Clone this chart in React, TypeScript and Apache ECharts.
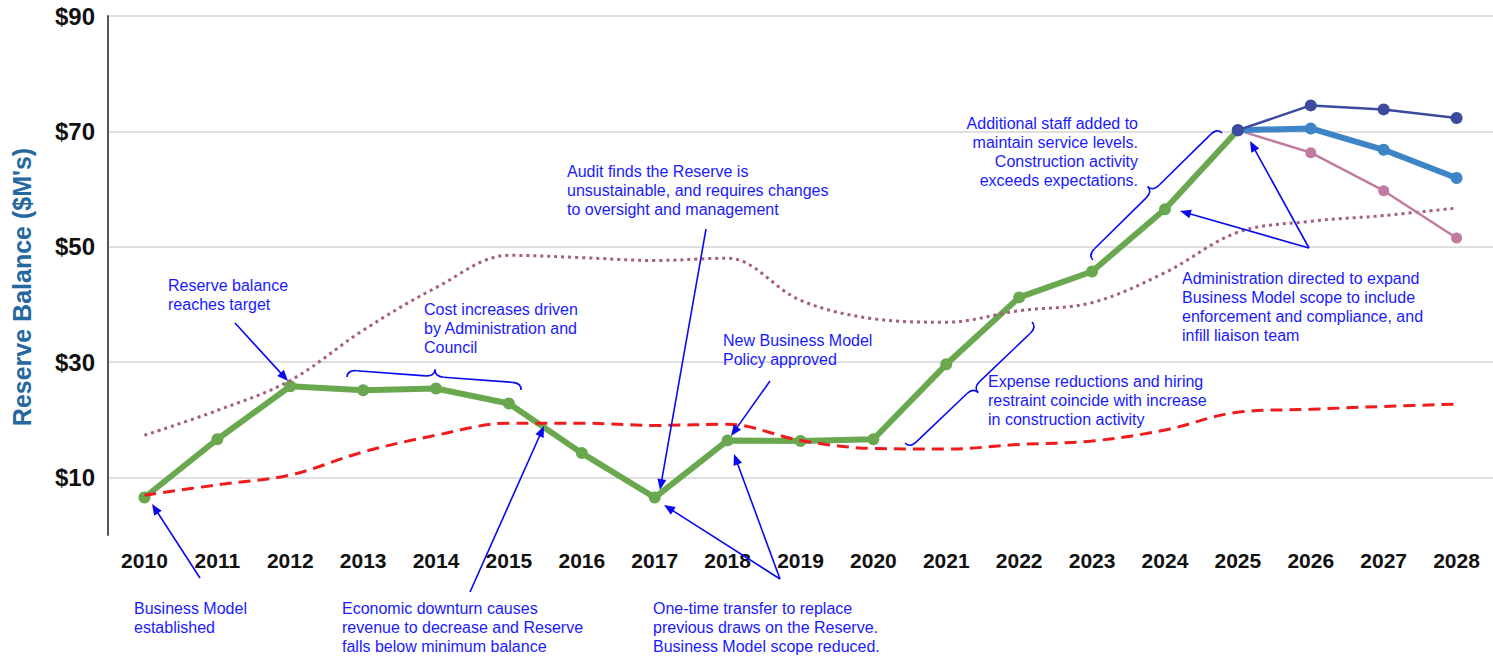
import React, { useEffect, useRef } from "react";
import * as echarts from "echarts";

const years = ["2010","2011","2012","2013","2014","2015","2016","2017","2018","2019","2020","2021","2022","2023","2024","2025","2026","2027","2028"];
const actual = [6.5, 16.6, 25.8, 25.1, 25.4, 22.8, 14.2, 6.5, 16.4, 16.3, 16.6, 29.6, 41.2, 45.7, 56.5, 70.2, null, null, null];
const projHigh = [null, null, null, null, null, null, null, null, null, null, null, null, null, null, null, 70.2, 74.5, 73.8, 72.3];
const projMid = [null, null, null, null, null, null, null, null, null, null, null, null, null, null, null, 70.2, 70.5, 66.8, 61.9];
const projLow = [null, null, null, null, null, null, null, null, null, null, null, null, null, null, null, 70.2, 66.3, 59.7, 51.5];
const target = [17.3, 21.6, 26.8, 35.5, 42.9, 48.5, 48.1, 47.6, 48.0, 40.7, 37.5, 36.9, 38.9, 40.3, 45.5, 52.5, 54.4, 55.4, 56.7];
const minimum = [6.9, 8.7, 10.4, 14.4, 17.3, 19.4, 19.4, 19.0, 19.2, 16.4, 15.0, 14.9, 15.7, 16.3, 18.2, 21.3, 21.8, 22.3, 22.7];

const yTickLabels = [10, 30, 50, 70, 90];

const notes = [
  { text: "Reserve balance\nreaches target", x: 168, y: 275.5, align: "left" },
  { text: "Cost increases driven\nby Administration and\nCouncil", x: 424, y: 299.5, align: "left" },
  { text: "Audit finds the Reserve is\nunsustainable, and requires changes\nto oversight and management", x: 567, y: 161.5, align: "left" },
  { text: "New Business Model\nPolicy approved", x: 723, y: 330.5, align: "left" },
  { text: "Additional staff added to\nmaintain service levels.\nConstruction activity\nexceeds expectations.", x: 1138, y: 113.5, align: "right" },
  { text: "Administration directed to expand\nBusiness Model scope to include\nenforcement and compliance, and\ninfill liaison team", x: 1182, y: 268.5, align: "left" },
  { text: "Expense reductions and hiring\nrestraint coincide with increase\nin construction activity", x: 988, y: 371.5, align: "left" },
  { text: "Business Model\nestablished", x: 134, y: 598.5, align: "left" },
  { text: "Economic downturn causes\nrevenue to decrease and Reserve\nfalls below minimum balance", x: 342, y: 598.5, align: "left" },
  { text: "One-time transfer to replace\nprevious draws on the Reserve.\nBusiness Model scope reduced.", x: 653, y: 598.5, align: "left" },
];

const arrows = [
  [235, 323, 288, 381],
  [200, 578, 152, 504],
  [470, 592, 544, 426],
  [706, 229, 660, 490],
  [770, 381, 731, 436],
  [780, 579, 664, 505],
  [780, 579, 734, 454],
  [1309, 248, 1180, 211],
  [1309, 248, 1250, 141],
];

const braces = [
  [347, 377, 521, 390, 1, 14],
  [905, 443, 1032, 322, -1, 14],
  [1093, 260, 1222, 133, 1, 14],
];

const TEXT_BLUE = "#1a1aff";
const ARROW_BLUE = "#0a0af0";
const FONT = '"Liberation Sans", Arial, sans-serif';

function makeArrow(a: number[]) {
  const [tx, ty, hx, hy] = a;
  const dx = hx - tx, dy = hy - ty;
  const L = Math.hypot(dx, dy);
  const ex = dx / L, ey = dy / L;
  const nx = -ey, ny = ex;
  const hl = 11, hw = 4.5;
  const bx = hx - ex * hl, by = hy - ey * hl;
  return [
    { type: "line", silent: true, z: 100, shape: { x1: tx, y1: ty, x2: bx + ex * 2, y2: by + ey * 2 }, style: { stroke: ARROW_BLUE, lineWidth: 1.6 } },
    { type: "polygon", silent: true, z: 100, shape: { points: [[hx, hy], [bx + nx * hw, by + ny * hw], [bx - nx * hw, by - ny * hw]] }, style: { fill: ARROW_BLUE } },
  ];
}

function makeBrace(b: number[]) {
  const [ax, ay, bx, by, side, h] = b;
  const dx = bx - ax, dy = by - ay;
  const L = Math.hypot(dx, dy);
  const ex = dx / L, ey = dy / L;
  const nx = ey * side, ny = -ex * side;
  const P = (u: number, v: number) => [ax + ex * u + nx * v, ay + ey * u + ny * v];
  const r = Math.min(9, L / 6);
  const st = { stroke: ARROW_BLUE, lineWidth: 1.6, fill: "none" };
  const q = (s: number[], c: number[], e: number[]) => ({ type: "bezierCurve", silent: true, z: 100, shape: { x1: s[0], y1: s[1], cpx1: c[0], cpy1: c[1], x2: e[0], y2: e[1] }, style: st });
  const ln = (s: number[], e: number[]) => ({ type: "line", silent: true, z: 100, shape: { x1: s[0], y1: s[1], x2: e[0], y2: e[1] }, style: st });
  const hh = h / 2, m = L / 2;
  return [
    q(P(0, 0), P(0, hh), P(r, hh)),
    ln(P(r, hh), P(m - r, hh)),
    q(P(m - r, hh), P(m, hh), P(m, h)),
    q(P(m, h), P(m, hh), P(m + r, hh)),
    ln(P(m + r, hh), P(L - r, hh)),
    q(P(L - r, hh), P(L, hh), P(L, 0)),
  ];
}

export default function App() {
  const ref = useRef<HTMLDivElement>(null);
  useEffect(() => {
    if (!ref.current) return;
    const chart = echarts.init(ref.current, null, { renderer: "svg" });
    const graphic: any[] = [];
    graphic.push({
      type: "text", silent: true, x: 22, y: 287, rotation: Math.PI / 2,
      style: { text: "Reserve Balance ($M's)", fill: "#24689f", font: `bold 25px ${FONT}`, align: "center", verticalAlign: "middle" },
    });
    notes.forEach((n) => {
      graphic.push({
        type: "text", silent: true, x: n.x, y: n.y, z: 100,
        style: { text: n.text, fill: TEXT_BLUE, font: `16px ${FONT}`, lineHeight: 19, align: n.align, verticalAlign: "top" },
      });
    });
    arrows.forEach((a) => graphic.push(...makeArrow(a)));
    braces.forEach((b) => graphic.push(...makeBrace(b)));

    chart.setOption({
      animation: false,
      backgroundColor: "#ffffff",
      grid: { left: 108, top: 16, width: 1387, bottom: 121, containLabel: false },
      xAxis: {
        type: "category",
        data: years,
        boundaryGap: true,
        axisLine: { show: false },
        axisTick: { show: false },
        axisLabel: { margin: 15, color: "#111", fontWeight: "bold", fontSize: 21, fontFamily: FONT },
        splitLine: { show: false },
      },
      yAxis: {
        type: "value",
        min: 0,
        max: 90,
        interval: 10,
        axisLine: { show: true, lineStyle: { color: "#555", width: 2 } },
        axisTick: { show: false },
        axisLabel: {
          margin: 13,
          color: "#111",
          fontWeight: "bold",
          fontSize: 24,
          fontFamily: FONT,
          formatter: (v: number) => (yTickLabels.indexOf(v) >= 0 ? "$" + v : ""),
        },
        splitLine: { show: true, lineStyle: { color: ["rgba(0,0,0,0)", "#d4d4d4"], width: 1.5 } },
      },
      series: [
        {
          name: "Actual", type: "line", data: actual, z: 3,
          lineStyle: { color: "#6aa84f", width: 6 },
          itemStyle: { color: "#6aa84f" },
          symbol: "circle", symbolSize: 12, showSymbol: true,
        },
        {
          name: "Target", type: "line", data: target, smooth: 0.35, z: 4,
          lineStyle: { color: "#a45e7e", width: 3, type: [3, 4] },
          symbol: "none",
        },
        {
          name: "Minimum", type: "line", data: minimum, smooth: 0.35, z: 4,
          lineStyle: { color: "#ee1c1c", width: 3, type: [12, 7] },
          symbol: "none",
        },
        {
          name: "Projection Low", type: "line", data: projLow, z: 5,
          lineStyle: { color: "#c27ba0", width: 2.5 },
          itemStyle: { color: "#c27ba0" },
          symbol: "circle", symbolSize: 11,
        },
        {
          name: "Projection Mid", type: "line", data: projMid, z: 5,
          lineStyle: { color: "#3d85c6", width: 6 },
          itemStyle: { color: "#3d85c6" },
          symbol: "circle", symbolSize: 12,
        },
        {
          name: "Projection High", type: "line", data: projHigh, z: 6,
          lineStyle: { color: "#3c4b9e", width: 2.5 },
          itemStyle: { color: "#3c4b9e" },
          symbol: "circle", symbolSize: 12,
        },
      ],
      graphic,
    });
    return () => chart.dispose();
  }, []);
  return <div ref={ref} style={{ position: "absolute", left: 0, top: 0, width: 1493, height: 656 }} />;
}
